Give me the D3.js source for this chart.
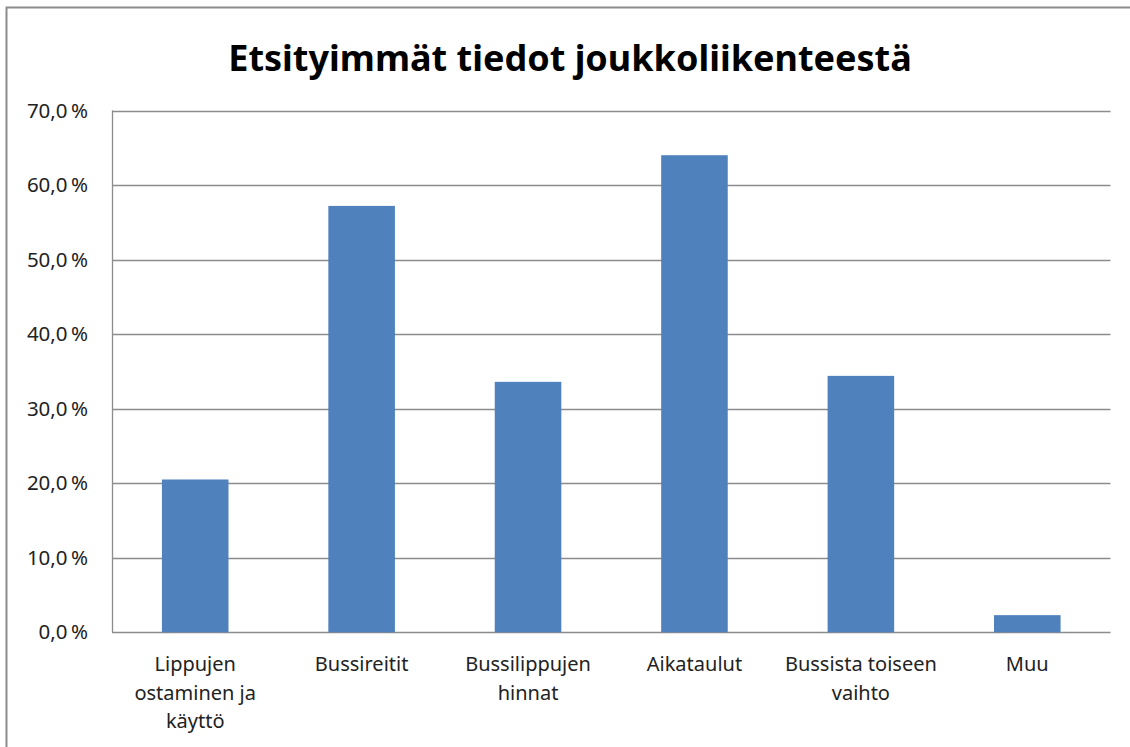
<!DOCTYPE html>
<html>
<head>
<meta charset="utf-8">
<script src="https://cdn.jsdelivr.net/npm/d3@7"></script>
<style>
  body { margin: 0; background: #fff; }
  svg { display: block; }
</style>
</head>
<body>
<div id="chart"></div>
<script>
// chart data
var title = 'Etsityimmät tiedot joukkoliikenteestä'
var categories = ['Lippujen ostaminen ja käyttö', 'Bussireitit', 'Bussilippujen hinnat',
  'Aikataulut', 'Bussista toiseen vaihto', 'Muu']
// wrapped versions of the category labels, as shown under the axis
var categoryLines = [
  ['Lippujen', 'ostaminen ja', 'käyttö'],
  ['Bussireitit'],
  ['Bussilippujen', 'hinnat'],
  ['Aikataulut'],
  ['Bussista toiseen', 'vaihto'],
  ['Muu']
]
var values = [20.5, 57.2, 33.6, 64.0, 34.4, 2.3]
var yTicks = [0, 10, 20, 30, 40, 50, 60, 70]

const width = 1130
const height = 747
const margin = { top: 110.5, right: 20, bottom: 115, left: 112 }
const font = "'Noto Sans', 'Open Sans', sans-serif"

var svg = d3.select('#chart')
  .append('svg')
  .attr('width', width)
  .attr('height', height)

// outer chart frame (the right and bottom edges are cut off in the picture)
svg.append('rect')
  .attr('x', 6.5)
  .attr('y', 7.5)
  .attr('width', width + 20)
  .attr('height', height + 20)
  .attr('fill', 'none')
  .attr('stroke', '#8c8c8c')
  .attr('stroke-width', 2)

svg.append('text')
  .attr('x', 570)
  .attr('y', 71)
  .attr('text-anchor', 'middle')
  .style('font-family', font)
  .style('font-weight', 'bold')
  .style('font-size', '36px')
  .attr('fill', '#000')
  .text(title)

var x = d3.scaleBand()
  .domain(categories)
  .range([margin.left, 1110.5])
  .paddingInner(0.6)
  .paddingOuter(0.3)

var y = d3.scaleLinear()
  .domain([0, 70])
  .range([632.3, margin.top])

// horizontal gridlines
svg.append('g')
  .selectAll('line')
  .data(yTicks)
  .enter()
  .append('line')
  .attr('x1', margin.left)
  .attr('x2', 1110.5)
  .attr('y1', d => Math.round(y(d)) + 0.5)
  .attr('y2', d => Math.round(y(d)) + 0.5)
  .attr('stroke', '#8c8c8c')
  .attr('stroke-width', 1.3)

// y axis line
svg.append('line')
  .attr('x1', margin.left + 0.5)
  .attr('x2', margin.left + 0.5)
  .attr('y1', y(70))
  .attr('y2', y(0))
  .attr('stroke', '#8c8c8c')
  .attr('stroke-width', 1.3)

// y tick labels, finnish style "70,0 %"
svg.append('g')
  .selectAll('text')
  .data(yTicks)
  .enter()
  .append('text')
  .attr('x', 88)
  .attr('y', d => y(d))
  .attr('dy', '0.35em')
  .attr('text-anchor', 'end')
  .style('font-family', font)
  .style('font-size', '20.5px')
  .attr('fill', '#222')
  .text(d => d3.format('.1f')(d).replace('.', ',') + '\u2009%')

// bars
svg.append('g')
  .selectAll('rect')
  .data(values)
  .enter()
  .append('rect')
  .attr('x', (d, i) => x(categories[i]))
  .attr('y', d => y(d))
  .attr('width', x.bandwidth())
  .attr('height', d => y(0) - y(d))
  .attr('fill', '#4f81bd')

// category labels under the axis
svg.append('g')
  .selectAll('text')
  .data(categoryLines)
  .enter()
  .append('text')
  .attr('x', (d, i) => x(categories[i]) + x.bandwidth() / 2)
  .attr('y', 671)
  .attr('text-anchor', 'middle')
  .style('font-family', font)
  .style('font-size', '20px')
  .attr('fill', '#222')
  .each(function (lines) {
    var t = d3.select(this)
    lines.forEach(function (line, j) {
      t.append('tspan')
        .attr('x', t.attr('x'))
        .attr('dy', j == 0 ? 0 : 28.5)
        .text(line)
    })
  })
</script>
</body>
</html>
